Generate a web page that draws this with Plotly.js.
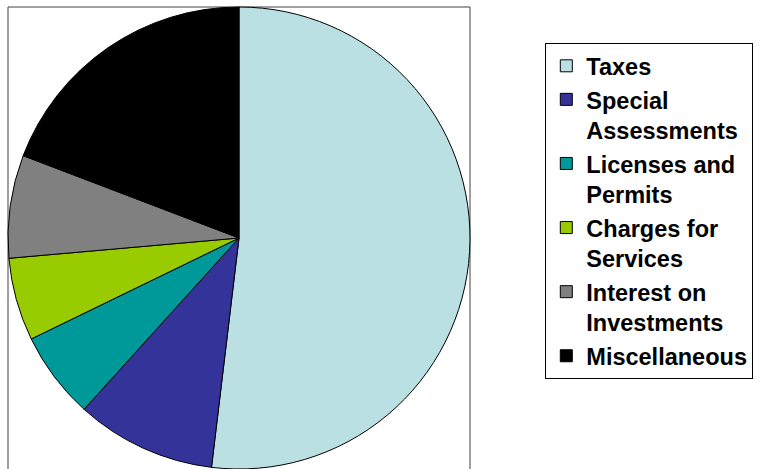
<!DOCTYPE html>
<html>
<head>
<meta charset="utf-8">
<script src="https://cdn.plot.ly/plotly-3.0.1.min.js"></script>
<style>html,body{margin:0;padding:0;background:#fff;}#chart{width:761px;height:469px;}</style>
</head>
<body>
<div id="chart"></div>
<script>
var categories = ["Taxes", "Special<br>Assessments", "Licenses and<br>Permits", "Charges for<br>Services", "Interest on<br>Investments", "Miscellaneous"];
var shares = [51.9, 9.8, 6.1, 5.8, 7.2, 19.2];
var sliceColors = ["#BBE0E3", "#333399", "#009999", "#99CC00", "#808080", "#000000"];

var data = [{
  type: "pie",
  labels: categories,
  values: shares,
  marker: {colors: sliceColors, line: {color: "#000000", width: 1}},
  sort: false,
  direction: "clockwise",
  rotation: 0,
  textinfo: "none",
  hoverinfo: "label+percent",
  domain: {x: [0, 1], y: [0, 1]}
}];

var layout = {
  width: 761,
  height: 469,
  margin: {l: 8, r: 291, t: 7, b: 0},
  paper_bgcolor: "#ffffff",
  showlegend: true,
  legend: {
    x: 1.163, xanchor: "left",
    y: 0.922, yanchor: "top",
    bgcolor: "#ffffff",
    bordercolor: "#000000",
    borderwidth: 1,
    valign: "top",
    entrywidth: 240,
    font: {family: "Liberation Sans, Arial, sans-serif", size: 23.5, color: "#000000", weight: "bold"}
  },
  shapes: [{
    type: "rect", xref: "paper", yref: "paper",
    x0: 0, x1: 1, y0: -0.05, y1: 1,
    line: {color: "#404040", width: 1}, layer: "below"
  }]
};

Plotly.newPlot("chart", data, layout, {displayModeBar: false, staticPlot: true});
</script>
</body>
</html>
